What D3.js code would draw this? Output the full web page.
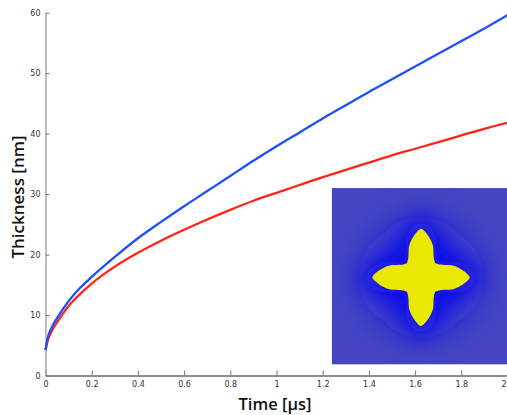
<!DOCTYPE html>
<html>
<head>
<meta charset="utf-8">
<script src="https://cdn.jsdelivr.net/npm/d3@7"></script>
<style>
    body { margin: 0; background: #fff; }
    svg { display: block; }
</style>
</head>
<body>
<div id="chart"></div>
<script>
const time = [0, 0.01, 0.025, 0.05, 0.1, 0.15, 0.2, 0.3, 0.4, 0.5, 0.6, 0.7, 0.8, 0.9, 1.0, 1.1, 1.2, 1.3, 1.4, 1.5, 1.6, 1.7, 1.8, 1.9, 2.0];
const blueThickness = [4.2, 6.3, 7.8, 9.5, 12.3, 14.5, 16.3, 19.6, 22.7, 25.4, 28.0, 30.5, 33.0, 35.5, 37.9, 40.2, 42.5, 44.7, 46.9, 49.0, 51.1, 53.2, 55.3, 57.4, 59.6];
const redThickness = [4.2, 5.8, 7.2, 8.8, 11.5, 13.5, 15.2, 18.0, 20.3, 22.3, 24.1, 25.8, 27.4, 28.9, 30.2, 31.5, 32.8, 34.0, 35.2, 36.4, 37.5, 38.6, 39.7, 40.8, 41.8];
const xTicks = [0, 0.2, 0.4, 0.6, 0.8, 1, 1.2, 1.4, 1.6, 1.8, 2];
const yTicks = [0, 10, 20, 30, 40, 50, 60];

const width = 507, height = 415;
const margin = { left: 45.5, right: 0, top: 12.7, bottom: 39.5 };

const svg = d3.select("#chart").append("svg")
    .attr("width", width)
    .attr("height", height);

const x = d3.scaleLinear().domain([0, 2]).range([margin.left, margin.left + 462]);
const y = d3.scaleLinear().domain([0, 60]).range([height - margin.bottom, margin.top]);

// axes, ticks pointing inward
const xAxis = svg.append("g")
    .attr("transform", `translate(0,${y(0)})`)
    .call(d3.axisBottom(x).tickValues(xTicks).tickSizeInner(-5).tickSizeOuter(0).tickPadding(6)
        .tickFormat(d => d3.format("~g")(d)));
const yAxis = svg.append("g")
    .attr("transform", `translate(${x(0)},0)`)
    .call(d3.axisLeft(y).tickValues(yTicks).tickSizeInner(-4).tickSizeOuter(0).tickPadding(5));

[xAxis, yAxis].forEach(g => {
    g.select(".domain").attr("stroke", "#9a9a9a").attr("stroke-width", 1.3);
    g.selectAll(".tick line").attr("stroke", "#777");
    g.selectAll(".tick text")
        .attr("fill", "#333")
        .attr("font-family", "DejaVu Sans, sans-serif")
        .attr("font-size", 8);
});
xAxis.select(".domain").attr("stroke", "#666");
// last label sits at the right edge of the window
xAxis.selectAll(".tick text").filter(d => d === 2).attr("text-anchor", "end").attr("dx", -1.5);

const line = d3.line()
    .x(d => x(d[0]))
    .y(d => y(d[1]))
    .curve(d3.curveMonotoneX);

svg.append("path")
    .datum(time.map((t, i) => [t, redThickness[i]]))
    .attr("fill", "none")
    .attr("stroke", "#ff2418")
    .attr("stroke-width", 2.3)
    .attr("d", line);

svg.append("path")
    .datum(time.map((t, i) => [t, blueThickness[i]]))
    .attr("fill", "none")
    .attr("stroke", "#1c50ff")
    .attr("stroke-width", 2.3)
    .attr("d", line);

// axis labels
svg.append("text")
    .attr("x", 275)
    .attr("y", 410)
    .attr("text-anchor", "middle")
    .attr("font-family", "Open Sans, sans-serif")
    .attr("font-weight", 600)
    .attr("font-size", 16.5)
    .attr("fill", "#111")
    .text("Time [μs]");

svg.append("text")
    .attr("transform", `translate(24,197) rotate(-90)`)
    .attr("text-anchor", "middle")
    .attr("font-family", "Open Sans, sans-serif")
    .attr("font-weight", 600)
    .attr("font-size", 17)
    .attr("fill", "#111")
    .text("Thickness [nm]");

// inset image: simulated crystal shape
const insetT = [1.239, 2.0];
const insetV = [1.8, 31];
const ix0 = x(insetT[0]), ix1 = x(insetT[1]) + 2;
const iy0 = y(insetV[1]), iy1 = y(insetV[0]);
const size = iy1 - iy0;
const cx = ix0 + size * 0.506, cy = iy0 + size * 0.506;

const defs = svg.append("defs");
defs.append("clipPath").attr("id", "insetClip")
    .append("rect").attr("x", ix0).attr("y", iy0).attr("width", ix1 - ix0).attr("height", size);
defs.append("filter").attr("id", "glowWide")
    .attr("filterUnits", "userSpaceOnUse")
    .attr("x", ix0 - 20).attr("y", iy0 - 20).attr("width", size + 40).attr("height", size + 40)
    .append("feGaussianBlur").attr("stdDeviation", 20);
defs.append("filter").attr("id", "glowNear")
    .attr("filterUnits", "userSpaceOnUse")
    .attr("x", ix0 - 20).attr("y", iy0 - 20).attr("width", size + 40).attr("height", size + 40)
    .append("feGaussianBlur").attr("stdDeviation", 11);

// four-armed outline: arm half-width w, arm length L, pointed tips, rounded inner corners
function shape(scale) {
    const k = size / 176 * scale;
    const w = 12.3, L = 49, s1 = 29;
    const half = s => {
        let h = w + 3.2 * Math.exp(-(s - w) / 3.5);
        if (s > s1) {
            const t = Math.min(1, (s - s1) / (L - s1));
            h *= Math.pow(1 - Math.pow(t, 1.5), 0.8);
        }
        return h;
    };
    const pts = [];
    for (let a = 0; a < 4; a++) {
        const ang = a * Math.PI / 2;
        const c = Math.cos(ang), sn = Math.sin(ang);
        const arm = [];
        for (let s = w + 1; s <= L; s += 2) arm.push([s, -half(s)]);
        arm.push([L, 0]);
        for (let s = L - 1; s >= w + 1; s -= 2) arm.push([s, half(s)]);
        arm.forEach(([u, v]) => pts.push([cx + k * (u * c - v * sn), cy + k * (u * sn + v * c)]));
    }
    return d3.line().curve(d3.curveBasisClosed)(pts);
}

const inset = svg.append("g").attr("clip-path", "url(#insetClip)");
inset.append("rect")
    .attr("x", ix0).attr("y", iy0)
    .attr("width", ix1 - ix0).attr("height", size)
    .attr("fill", "#4545c2");
inset.append("circle")
    .attr("cx", cx).attr("cy", cy).attr("r", size * 0.28)
    .attr("fill", "#1414e6")
    .attr("filter", "url(#glowWide)");
inset.append("path")
    .attr("d", shape(1.25))
    .attr("fill", "#0808f0")
    .attr("filter", "url(#glowNear)");
inset.append("path")
    .attr("d", shape(1))
    .attr("fill", "#e8e800");
</script>
</body>
</html>
